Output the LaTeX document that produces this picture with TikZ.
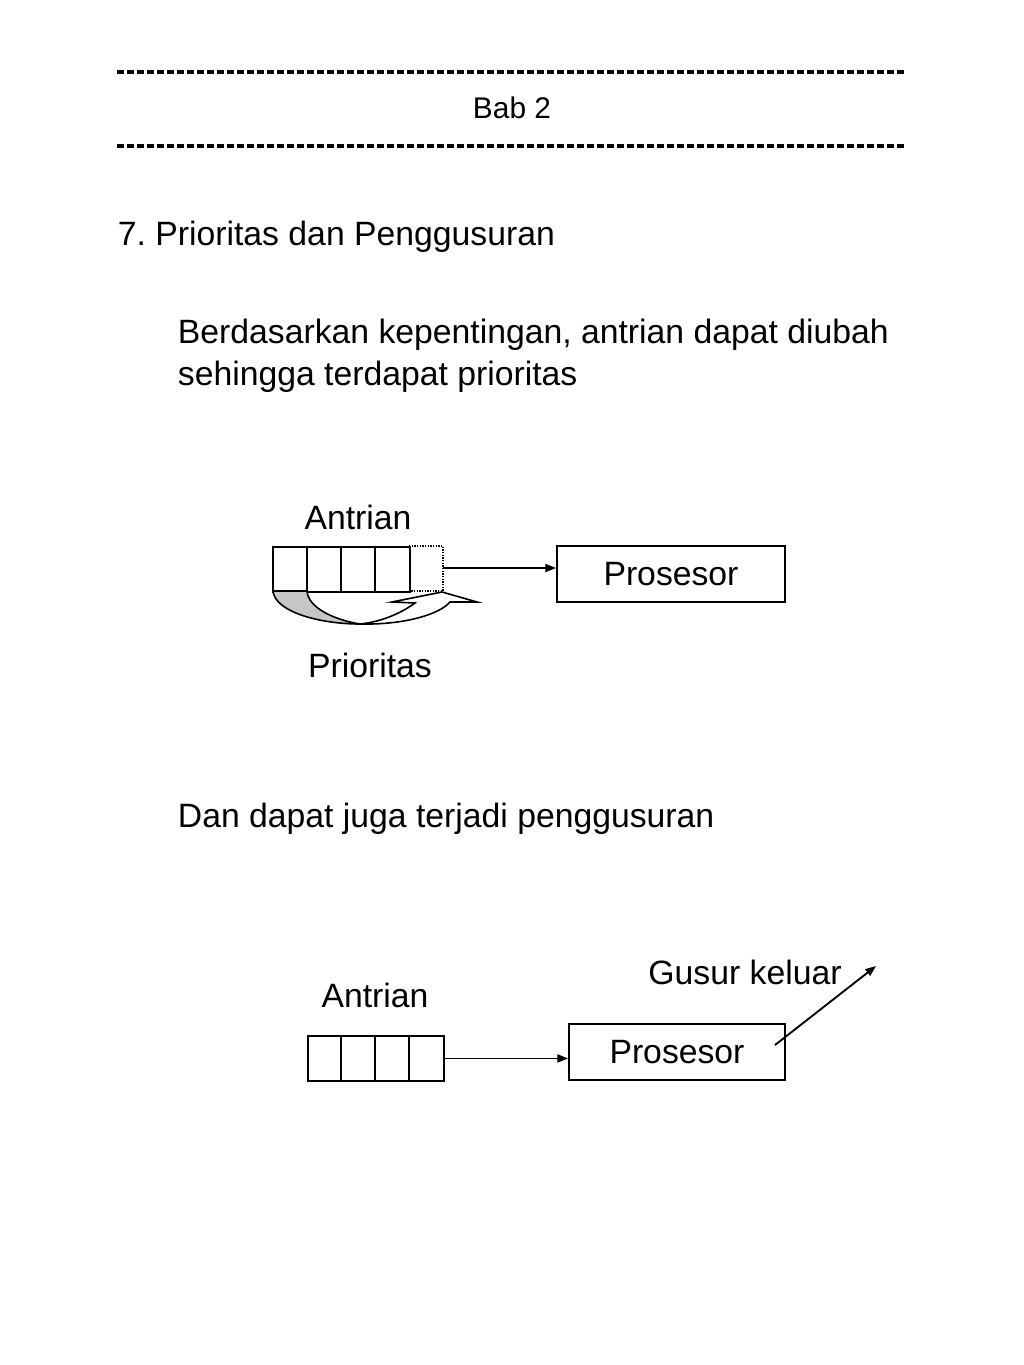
\documentclass[tikz,border=0pt]{standalone}
\usepackage{fontspec}
\setmainfont{Liberation Sans}
\usetikzlibrary{arrows.meta}
\frenchspacing
\begin{document}
\begin{tikzpicture}[x=0.75pt,y=-0.75pt,line width=1.4pt,
  txt/.style={font=\fontsize{25.3}{30}\selectfont,inner sep=0pt},
  hdr/.style={font=\fontsize{22.4}{27}\selectfont,inner sep=0pt},
  box/.style={draw,rectangle,inner sep=0pt,font=\fontsize{25.3}{30}\selectfont},
  hline/.style={line width=2.3pt,dash pattern=on 5.6pt off 1.9pt},
  arr/.style={-{Triangle[length=8pt,width=6pt]}}]
\useasboundingbox (0,0) rectangle (1024,1365);
\fill[white] (0,0) rectangle (1024,1365);
% header
\coordinate (h1a) at (117,72); \coordinate (h1b) at (906,72);
\coordinate (h2a) at (117,146); \coordinate (h2b) at (906,146);
\draw[hline] (h1a) -- (h1b);
\draw[hline] (h2a) -- (h2b);
\node[hdr,anchor=base] (bab) at (512,118) {Bab 2};
% texts
\node[txt,anchor=base west] (title) at (117,245) {7. Prioritas dan Penggusuran};
\node[txt,anchor=base west] (p1) at (177,343) {Berdasarkan kepentingan, antrian dapat diubah};
\node[txt,anchor=base west] (p2) at (177,385) {sehingga terdapat prioritas};
\node[txt,anchor=base west] (p3) at (177,827) {Dan dapat juga terjadi penggusuran};
% diagram 1
\node[txt,anchor=base] (ant1) at (358,529) {Antrian};
\node[draw,rectangle,inner sep=0pt,minimum width=102.75pt,minimum height=33.75pt,anchor=north west] (q1) at (272,546) {};
\draw (307,546) -- (307,591) (341,546) -- (341,591) (375,546) -- (375,591);
\draw[densely dotted,line width=1pt] (409,546) -- (443,546) -- (443,591) -- (409,591);
\coordinate (q1end) at (443,568);
\node[box,minimum width=171pt,minimum height=42pt] (pros1) at (671,574) {Prosesor};
\draw[arr] (q1end) -- (q1end -| pros1.west);
% curved arrow (priority)
\filldraw[fill=gray!45,line width=1.2pt] (273,591) .. controls (275,612) and (320,624) .. (360,624)
  .. controls (335,620) and (308,608) .. (307,591) -- cycle;
\filldraw[fill=white,line width=1.2pt] (360,624) .. controls (405,625) and (440,614) .. (450,602)
  -- (477,602) -- (442,592) -- (392,602) -- (415,603)
  .. controls (400,614) and (380,622) .. (360,624) -- cycle;
\node[txt,anchor=base] (prio) at (370,677) {Prioritas};
% diagram 2
\node[txt,anchor=base] (gusur) at (745,984) {Gusur keluar};
\node[txt,anchor=base] (ant2) at (375,1007) {Antrian};
\node[draw,rectangle,inner sep=0pt,minimum width=102pt,minimum height=33.75pt,anchor=north west] (q2) at (307,1035) {};
\draw (341,1035) -- (341,1080) (375,1035) -- (375,1080) (409,1035) -- (409,1080);
\node[box,minimum width=162pt,minimum height=42pt] (pros2) at (677,1052) {Prosesor};
\draw[arr] (q2.east) -- (q2.east -| pros2.west);
\coordinate (gs) at (775,1045);
\coordinate (ge) at (876,966);
\draw[arr] (gs) -- (ge);
\end{tikzpicture}
\end{document}
